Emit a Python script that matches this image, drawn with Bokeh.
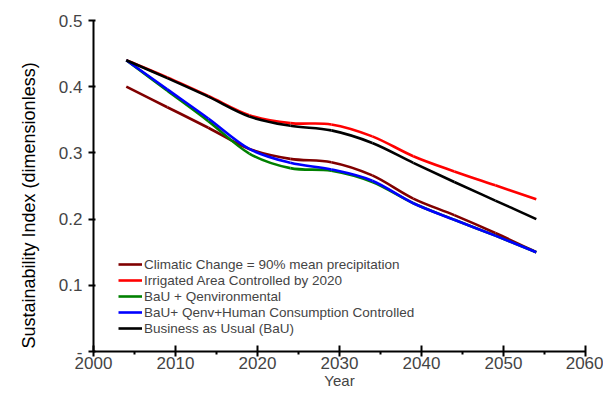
from bokeh.plotting import figure
from bokeh.models import FixedTicker, Legend, LegendItem, ColumnDataSource, Title
from bokeh.embed import file_html
from bokeh.resources import INLINE

# ---- data ----
years = [2004, 2009, 2014, 2019, 2024, 2029, 2034, 2039, 2044, 2049, 2054]
climatic = [0.400, 0.369, 0.338, 0.306, 0.291, 0.286, 0.266, 0.231, 0.206, 0.179, 0.150]
irrigated = [0.440, 0.414, 0.386, 0.357, 0.345, 0.343, 0.325, 0.295, 0.272, 0.251, 0.230]
qenv = [0.440, 0.394, 0.348, 0.299, 0.277, 0.273, 0.256, 0.224, 0.199, 0.175, 0.150]
qenv_human = [0.440, 0.396, 0.352, 0.306, 0.285, 0.275, 0.258, 0.224, 0.199, 0.175, 0.150]
bau = [0.440, 0.413, 0.385, 0.355, 0.341, 0.334, 0.315, 0.285, 0.256, 0.228, 0.200]

labels = [
    "Climatic Change = 90% mean precipitation",
    "Irrigated Area Controlled by 2020",
    "BaU + Qenvironmental",
    "BaU+ Qenv+Human Consumption Controlled",
    "Business as Usual (BaU)",
]
colors = ["#800000", "#FF0000", "#008000", "#0000FF", "#000000"]
series = [climatic, irrigated, qenv, qenv_human, bau]

x_ticks = [2000, 2010, 2020, 2030, 2040, 2050, 2060]
x_minor = [2005, 2015, 2025, 2035, 2045, 2055]
y_ticks = [0, 0.1, 0.2, 0.3, 0.4, 0.5]

x_title = "Year"
y_title = "Sustainability Index (dimensionless)"

FONT = "Liberation Sans"


def smooth_segments(xs, ys):
    """Excel-like smoothed line: cubic Bezier segments between data points."""
    n = len(xs)
    d = dict(x0=[], y0=[], x1=[], y1=[], cx0=[], cy0=[], cx1=[], cy1=[])
    for i in range(n - 1):
        pm = max(i - 1, 0)
        pp = min(i + 2, n - 1)
        d["x0"].append(xs[i]); d["y0"].append(ys[i])
        d["x1"].append(xs[i + 1]); d["y1"].append(ys[i + 1])
        d["cx0"].append(xs[i] + (xs[i + 1] - xs[pm]) / 6.0)
        d["cy0"].append(ys[i] + (ys[i + 1] - ys[pm]) / 6.0)
        d["cx1"].append(xs[i + 1] - (xs[pp] - xs[i]) / 6.0)
        d["cy1"].append(ys[i + 1] - (ys[pp] - ys[i]) / 6.0)
    return ColumnDataSource(d)


p = figure(
    width=603, height=392,
    x_range=(2000, 2060), y_range=(0, 0.5),
    output_backend="svg", toolbar_location=None,
    min_border_left=92, min_border_right=18,
    min_border_top=20, min_border_bottom=41,
)
p.outline_line_color = None
p.xgrid.visible = False
p.ygrid.visible = False

renderers = []
for vals, col in zip(series, colors):
    src = smooth_segments(years, vals)
    r = p.bezier(x0="x0", y0="y0", x1="x1", y1="y1",
                 cx0="cx0", cy0="cy0", cx1="cx1", cy1="cy1",
                 source=src, line_color=col, line_width=2.6)
    renderers.append(r)

# x axis
xa = p.xaxis[0]
xa.ticker = FixedTicker(ticks=x_ticks, minor_ticks=x_minor)
xa.axis_line_width = 2
xa.major_tick_line_width = 2
xa.major_tick_in = 6
xa.major_tick_out = 5
xa.minor_tick_line_width = 2
xa.minor_tick_in = 0
xa.minor_tick_out = 3
xa.major_label_text_font = FONT
xa.major_label_text_font_size = "17px"
xa.major_label_standoff = 0
xa.axis_label = x_title
xa.axis_label_text_font = FONT
xa.axis_label_text_font_size = "15px"
xa.axis_label_text_font_style = "normal"
xa.axis_label_standoff = 0

# y axis
ya = p.yaxis[0]
ya.ticker = FixedTicker(ticks=y_ticks, minor_ticks=[])
ya.major_label_overrides = {0: "-"}
ya.axis_line_width = 2
ya.major_tick_line_width = 2
ya.major_tick_in = 2
ya.major_tick_out = 5
ya.minor_tick_line_color = None
ya.major_label_text_font = FONT
ya.major_label_text_font_size = "17px"
ya.major_label_standoff = 6

# y title: in the left panel, anchored near the bottom as in the reference
yt = Title(text=y_title, align="left", offset=3, standoff=33,
           text_font=FONT, text_font_size="18px", text_font_style="normal",
           text_color="black")
p.add_layout(yt, "left")

legend = Legend(
    items=[LegendItem(label=l, renderers=[r]) for l, r in zip(labels, renderers)],
    location=(25, 15),
    label_text_font=FONT, label_text_font_size="13.5px",
    glyph_width=24, glyph_height=16, label_height=16, label_standoff=2,
    spacing=0, padding=0, margin=0,
    border_line_color=None, background_fill_alpha=0,
)
p.add_layout(legend)

open("out.html", "w").write(file_html(p, INLINE))
